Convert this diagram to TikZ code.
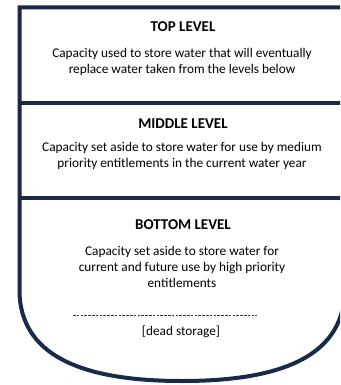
\documentclass[tikz,border=0pt]{standalone}
\usepackage{fontspec}
\setmainfont{Carlito}
\usepackage{tikz}
\usetikzlibrary{positioning}
\definecolor{wallblue}{RGB}{24,42,72}

\begin{document}
\begin{tikzpicture}[x=1pt,y=-1pt,
    wall/.style={draw=wallblue,line width=4pt},
    head/.style={font=\fontsize{15}{16}\selectfont\bfseries,inner sep=0pt,anchor=base},
    desc/.style={font=\fontsize{13.3}{16}\selectfont,align=center,inner sep=0pt}]
    \useasboundingbox (0,0) rectangle (340,385);
    \clip (0,0) rectangle (340,385);

    % reservoir outline
    \draw[wall] (344.5,7.5) -- (19.5,7.5) -- (19.5,290)
      .. controls (19.5,362) and (95,381) .. (182,381)
      .. controls (269,381) and (344.5,362) .. (344.5,290) -- cycle;
    \draw[wall] (19.5,103) -- (344.5,103);
    \draw[wall] (19.5,198) -- (344.5,198);

    % top level
    \node[head] (toptitle) at (183,31.7) {TOP LEVEL};
    \node[desc] (toptext) at (182,61.7) {Capacity used to store water that will eventually\\replace water taken from the levels below};

    % middle level
    \node[head] (midtitle) at (183,128.3) {MIDDLE LEVEL};
    \node[desc] (midtext) at (182,156.2) {Capacity set aside to store water for use by medium\\priority entitlements in the current water year};

    % bottom level
    \node[head] (bottitle) at (183,229.3) {BOTTOM LEVEL};
    \node[desc] (bottext) at (182,267.4) {Capacity set aside to store water for\\current and future use by high priority\\entitlements};

    \coordinate (deadL) at (73,315);
    \coordinate (deadR) at (257,315);
    \draw[black!80,line width=0.5pt,dash pattern=on 2.6pt off 1.2pt] (deadL) -- (deadR);
    \node[desc,anchor=base] (dead) at (181,335) {[dead storage]};
\end{tikzpicture}
\end{document}
